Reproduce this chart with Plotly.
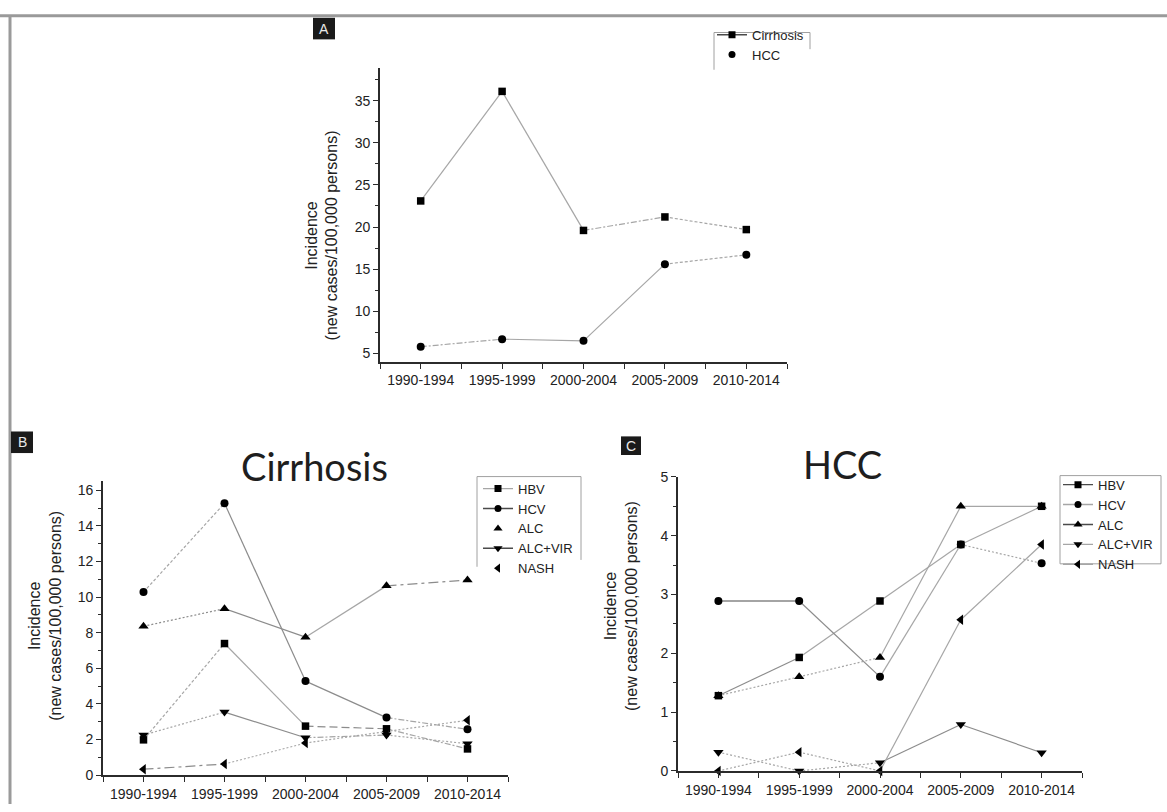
import plotly.graph_objects as go

W, H = 1167, 812

periods = ["1990-1994", "1995-1999", "2000-2004", "2005-2009", "2010-2014"]

# Panel A: overall incidence (new cases / 100,000 persons)
a_cirrhosis = [23.1, 36.1, 19.6, 21.2, 19.7]
a_hcc = [5.8, 6.7, 6.5, 15.6, 16.7]

# Panel B: cirrhosis incidence by aetiology
b_hbv = [1.98, 7.39, 2.75, 2.6, 1.47]
b_hcv = [10.28, 15.27, 5.28, 3.23, 2.57]
b_alc = [8.36, 9.35, 7.75, 10.63, 10.96]
b_alc_vir = [2.25, 3.54, 2.1, 2.25, 1.76]
b_nash = [0.33, 0.62, 1.8, 2.45, 3.08]

# Panel C: HCC incidence by aetiology
c_hbv = [1.28, 1.93, 2.89, 3.85, 4.5]
c_hcv = [2.89, 2.89, 1.6, 3.85, 3.53]
c_alc = [1.28, 1.6, 1.93, 4.5, 4.5]
c_alc_vir = [0.32, 0.0, 0.14, 0.79, 0.31]
c_nash = [0.0, 0.32, 0.0, 2.57, 3.85]

# ---- styling -------------------------------------------------------------
LIGHT = "#a6a6a6"
MID = "#8c8c8c"
DARK = "#4a4a4a"
AXIS = "#2b2b2b"
TXT = "#222222"
TICK_FONT = dict(family="Liberation Sans, Arial, sans-serif", size=14, color=TXT)
SOLID = "solid"
DOT = "2px,2px"
FINE = "3px,2px"
LDASH = "8px,4px"
DDOT = "6px,2px,2px,2px"
LDDOT = "10px,4px,3px,4px"

xpos = list(range(len(periods)))


def px_x(p):
    return p / W


def px_y(p):
    return 1 - p / H


fig = go.Figure()


def add_series(values, xa, ya, symbol, size, seg_styles):
    """Connect consecutive periods with individually styled segments, then markers."""
    for i in range(len(values) - 1):
        color, dash = seg_styles[i]
        fig.add_trace(go.Scatter(
            x=xpos[i:i + 2], y=values[i:i + 2], mode="lines",
            line=dict(color=color, width=1.2, dash=dash),
            xaxis=xa, yaxis=ya, showlegend=False, hoverinfo="skip",
            cliponaxis=False))
    fig.add_trace(go.Scatter(
        x=xpos, y=values, mode="markers",
        marker=dict(symbol=symbol, size=size, color="black",
                    line=dict(width=0)),
        xaxis=xa, yaxis=ya, showlegend=False, cliponaxis=False))


def add_key(name, legend, symbol, size, line_color=None):
    """Legend entry only (no data)."""
    fig.add_trace(go.Scatter(
        x=[None], y=[None], name=name, legend=legend,
        mode="lines+markers" if line_color else "markers",
        line=dict(color=line_color or "black", width=1.4),
        marker=dict(symbol=symbol, size=size, color="black"),
        xaxis="x", yaxis="y"))


# Panel A
add_series(a_cirrhosis, "x", "y", "square", 7.5,
           [(LIGHT, SOLID), (LIGHT, SOLID), (LIGHT, DDOT), (LIGHT, FINE)])
add_series(a_hcc, "x", "y", "circle", 8,
           [(LIGHT, DDOT), (LIGHT, SOLID), (LIGHT, SOLID), (LIGHT, FINE)])
add_key("Cirrhosis", "legend", "square", 7, DARK)
add_key("HCC", "legend", "circle", 7)

# Panel B
add_series(b_hbv, "x2", "y2", "square", 7.5,
           [(LIGHT, FINE), (LIGHT, SOLID), (MID, LDASH), (LIGHT, DDOT)])
add_series(b_hcv, "x2", "y2", "circle", 8,
           [(LIGHT, FINE), (MID, SOLID), (MID, SOLID), (LIGHT, DDOT)])
add_series(b_alc, "x2", "y2", "triangle-up", 9,
           [(MID, DOT), (MID, SOLID), (LIGHT, SOLID), (MID, LDDOT)])
add_series(b_alc_vir, "x2", "y2", "triangle-down", 9,
           [(LIGHT, DOT), (MID, SOLID), (LIGHT, DDOT), (LIGHT, DOT)])
add_series(b_nash, "x2", "y2", "triangle-left", 9,
           [(MID, LDDOT), (LIGHT, DOT), (LIGHT, DOT), (LIGHT, DOT)])
add_key("HBV", "legend2", "square", 7, LIGHT)
add_key("HCV", "legend2", "circle", 7, DARK)
add_key("ALC", "legend2", "triangle-up", 8)
add_key("ALC+VIR", "legend2", "triangle-down", 8, DARK)
add_key("NASH", "legend2", "triangle-left", 8)

# Panel C
add_series(c_hbv, "x3", "y3", "square", 7.5,
           [(MID, SOLID), (LIGHT, SOLID), (LIGHT, SOLID), (LIGHT, SOLID)])
add_series(c_hcv, "x3", "y3", "circle", 8,
           [(DARK, SOLID), (MID, SOLID), (LIGHT, SOLID), (LIGHT, DOT)])
add_series(c_alc, "x3", "y3", "triangle-up", 9,
           [(LIGHT, DOT), (LIGHT, DOT), (LIGHT, SOLID), (LIGHT, SOLID)])
add_series(c_alc_vir, "x3", "y3", "triangle-down", 9,
           [(LIGHT, DOT), (LIGHT, DOT), (MID, SOLID), (MID, SOLID)])
add_series(c_nash, "x3", "y3", "triangle-left", 9,
           [(LIGHT, DOT), (LIGHT, DOT), (LIGHT, SOLID), (LIGHT, SOLID)])
add_key("HBV", "legend3", "square", 7, DARK)
add_key("HCV", "legend3", "circle", 7, LIGHT)
add_key("ALC", "legend3", "triangle-up", 8, DARK)
add_key("ALC+VIR", "legend3", "triangle-down", 8, LIGHT)
add_key("NASH", "legend3", "triangle-left", 8, LIGHT)


def xaxis(x0, x1, anchor):
    return dict(domain=[px_x(x0), px_x(x1)], range=[-0.5, 4.5], anchor=anchor,
                tickmode="array", tickvals=xpos, ticktext=periods,
                showline=True, linecolor=AXIS, linewidth=1.6, mirror=False,
                ticks="outside", ticklen=5, tickwidth=1.3, tickcolor=AXIS,
                minor=dict(dtick=0.5, tick0=0, ticks="outside", ticklen=5,
                           tickwidth=1.3, tickcolor=AXIS),
                tickfont=TICK_FONT, showgrid=False, zeroline=False,
                fixedrange=True)


def yaxis(y_top, y_bottom, rng, dtick, anchor):
    return dict(domain=[px_y(y_bottom), px_y(y_top)], range=rng, anchor=anchor,
                tickmode="linear", tick0=0, dtick=dtick,
                showline=True, linecolor=AXIS, linewidth=1.6,
                ticks="outside", ticklen=5, tickwidth=1.3, tickcolor=AXIS,
                minor=dict(dtick=dtick / 2, tick0=0, ticks="outside", ticklen=3,
                           tickwidth=1.2, tickcolor=AXIS),
                tickfont=TICK_FONT, showgrid=False, zeroline=False,
                fixedrange=True)


LEG_FONT = dict(family="Liberation Sans, Arial, sans-serif", size=13, color=TXT)


def legend(x_left, y_top):
    return dict(x=px_x(x_left), y=px_y(y_top), xanchor="left", yanchor="top",
                bgcolor="rgba(0,0,0,0)", borderwidth=0, font=LEG_FONT,
                itemclick=False, itemdoubleclick=False, tracegroupgap=0)


shapes = [
    # figure frame (top and left rules)
    dict(type="line", xref="paper", yref="paper", x0=0, x1=1,
         y0=px_y(8), y1=px_y(8), line=dict(color="#9a9a9a", width=3)),
    dict(type="line", xref="paper", yref="paper", x0=px_x(10), x1=px_x(10),
         y0=px_y(8), y1=0, line=dict(color="#9a9a9a", width=3)),
]


def open_box(x0, x1, y0, y1, y_right_end, closed=False):
    c = dict(color="#a0a0a0", width=1)
    out = [
        dict(type="line", xref="paper", yref="paper", x0=px_x(x0), x1=px_x(x0),
             y0=px_y(y0), y1=px_y(y1), line=c),
        dict(type="line", xref="paper", yref="paper", x0=px_x(x0), x1=px_x(x1),
             y0=px_y(y0), y1=px_y(y0), line=c),
        dict(type="line", xref="paper", yref="paper", x0=px_x(x1), x1=px_x(x1),
             y0=px_y(y0), y1=px_y(y_right_end), line=c),
    ]
    if closed:
        out.append(dict(type="line", xref="paper", yref="paper", x0=px_x(x0),
                        x1=px_x(x1), y0=px_y(y1), y1=px_y(y1), line=c))
    return out


shapes += open_box(714, 810, 25, 63, 42)
shapes += open_box(477, 581, 478, 570, 563)
shapes += open_box(1060, 1161, 477, 567, 567, closed=True)

annotations = []
for letter, (bx0, by0, bx1, by1) in {"A": (313, 10, 335, 32),
                                     "B": (11, 432, 33, 454),
                                     "C": (621, 437, 641, 456)}.items():
    shapes.append(dict(type="rect", xref="paper", yref="paper",
                       x0=px_x(bx0), x1=px_x(bx1), y0=px_y(by1), y1=px_y(by0),
                       fillcolor="#1a1a1a", line=dict(width=0)))
    annotations.append(dict(text=letter, xref="paper", yref="paper",
                            x=px_x((bx0 + bx1) / 2), y=px_y((by0 + by1) / 2),
                            xanchor="center", yanchor="middle", showarrow=False,
                            font=dict(family="Liberation Sans, Arial", size=14,
                                      color="#e8e8e8")))

YT_FONT = dict(family="Liberation Sans, Arial, sans-serif", size=16, color=TXT)
for cx, cy in [(322, 232), (45, 620), (621, 610)]:
    annotations.append(dict(text="Incidence<br>(new cases/100,000 persons)",
                            xref="paper", yref="paper", x=px_x(cx), y=px_y(cy),
                            xanchor="center", yanchor="middle", textangle=-90,
                            showarrow=False, font=YT_FONT))

TITLE_FONT = dict(family="Lato, Carlito, Calibri, sans-serif", size=38, color="#1e1e1e")
annotations.append(dict(text="Cirrhosis", xref="paper", yref="paper",
                        x=px_x(314), y=px_y(467), xanchor="center", yanchor="middle",
                        showarrow=False, font=TITLE_FONT))
annotations.append(dict(text="HCC", xref="paper", yref="paper",
                        x=px_x(842), y=px_y(465), xanchor="center", yanchor="middle",
                        showarrow=False, font=TITLE_FONT))

fig.update_layout(
    width=W, height=H, margin=dict(l=0, r=0, t=0, b=0),
    paper_bgcolor="white", plot_bgcolor="white",
    xaxis=xaxis(380, 787, "y"),
    yaxis=yaxis(61, 361, [4.0, 38.9], 5, "x"),
    xaxis2=xaxis(103, 508, "y2"),
    yaxis2=yaxis(482, 782.5, [0, 16.55], 2, "x2"),
    xaxis3=xaxis(678, 1082, "y3"),
    yaxis3=yaxis(478.3, 778.3, [0, 5], 1, "x3"),
    legend=legend(712, 12),
    legend2=legend(478, 475),
    legend3=legend(1058, 471),
    shapes=shapes, annotations=annotations,
    showlegend=True,
)

fig.write_html("out.html")
